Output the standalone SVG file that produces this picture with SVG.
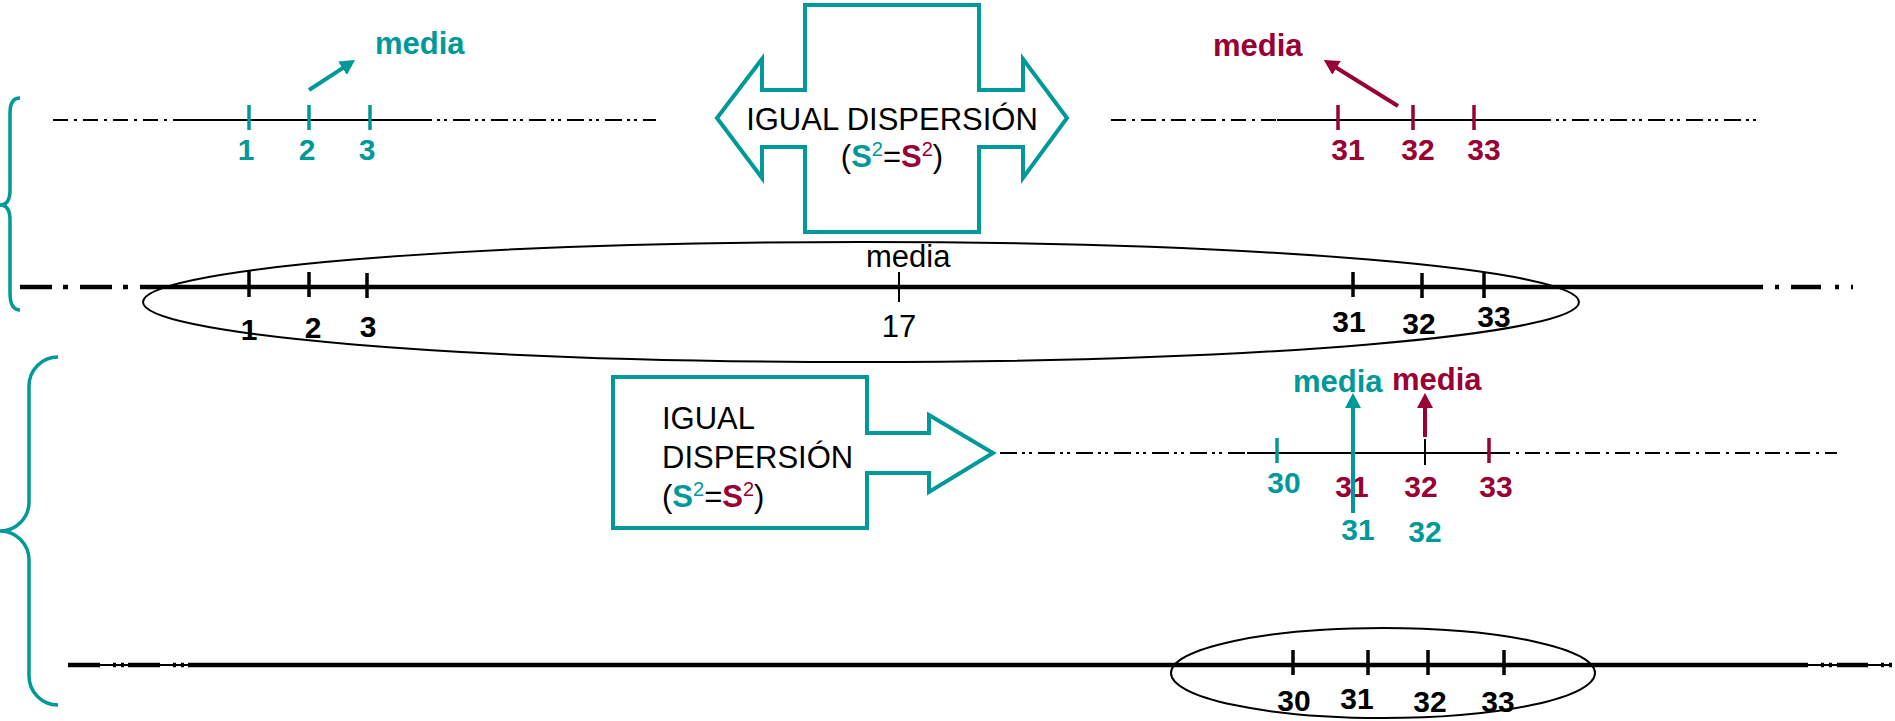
<svg xmlns="http://www.w3.org/2000/svg" width="1895" height="721" viewBox="0 0 1895 721">
<style>
text{font-family:"Liberation Sans",Arial,Helvetica,sans-serif;}
.num{font-weight:bold;font-size:30px;text-anchor:middle}
.teal{fill:#009999}
.crim{fill:#990033}
.blk{fill:#000}
.med{font-weight:bold;font-size:31px}
.reg{font-size:31px}
.sup{font-size:20px}
.tkT{stroke:#009999;stroke-width:3.5}
.tkC{stroke:#990033;stroke-width:3.5}
.tkB{stroke:#000;stroke-width:3.5}
.tkS{stroke:#000;stroke-width:2}
.thin{stroke:#000;stroke-width:2;fill:none}
.thick{stroke:#000;stroke-width:4.5;fill:none}
.dd{stroke-dasharray:15 6 3 6}
.ddd{stroke-dasharray:17 5 3 4 3 6}
.tdd{stroke-dasharray:32 11 5 12}
.tddd{stroke-dasharray:32 13 3 5 3 4}
.shape{fill:#fff;stroke:#009999;stroke-width:4}
.brace{fill:none;stroke:#009999;stroke-width:3.5}
.ell{fill:none;stroke:#000;stroke-width:2}
.arT{stroke:#009999;stroke-width:4;fill:none}
.arC{stroke:#990033;stroke-width:4;fill:none}
</style>
<defs>
<marker id="hT" markerUnits="userSpaceOnUse" markerWidth="16" markerHeight="16" refX="3" refY="8" orient="auto">
<path d="M0,0 L15,8 L0,16 Z" fill="#009999"/>
</marker>
<marker id="hC" markerUnits="userSpaceOnUse" markerWidth="16" markerHeight="16" refX="3" refY="8" orient="auto">
<path d="M0,0 L15,8 L0,16 Z" fill="#990033"/>
</marker>
</defs>

<g id="brace-top">
<path class="brace" d="M20,98 Q10,98 10,113 V190 Q10,205 0,205 Q10,205 10,220 V293 Q10,310 20,310"/>
</g>
<g id="brace-bottom">
<path class="brace" d="M58,357 A29,29 0 0 0 29,386 V502 A29,29 0 0 1 0,531 A29,29 0 0 1 29,560 V676 A29,29 0 0 0 58,705"/>
</g>

<g id="scale-teal-top">
<line class="thin dd" x1="53" y1="120" x2="174" y2="120"/>
<line class="thin" x1="174" y1="120" x2="415" y2="120"/>
<line class="thin ddd" x1="415" y1="120" x2="656" y2="120"/>
<line class="tkT" x1="249" y1="105" x2="249" y2="130"/>
<line class="tkT" x1="309" y1="105" x2="309" y2="130"/>
<line class="tkT" x1="370" y1="105" x2="370" y2="130"/>
<text class="num teal" x="246" y="160">1</text>
<text class="num teal" x="307" y="160">2</text>
<text class="num teal" x="367" y="160">3</text>
<text class="med teal" x="375" y="54">media</text>
</g>

<g id="scale-crimson-top">
<line class="thin dd" x1="1111" y1="120" x2="1277" y2="120"/>
<line class="thin" x1="1277" y1="120" x2="1534" y2="120"/>
<line class="thin ddd" x1="1534" y1="120" x2="1761" y2="120"/>
<line class="tkC" x1="1338" y1="105" x2="1338" y2="130"/>
<line class="tkC" x1="1413" y1="105" x2="1413" y2="130"/>
<line class="tkC" x1="1474" y1="105" x2="1474" y2="130"/>
<text class="num crim" x="1348" y="160">31</text>
<text class="num crim" x="1418" y="160">32</text>
<text class="num crim" x="1484" y="160">33</text>
<text class="med crim" x="1213" y="56">media</text>
</g>

<g id="double-arrow-box">
<path class="shape" d="M805,5 H979 V90 H1023 V59 L1067,118 L1023,178 V147 H979 V232 H805 V147 H762 V178 L717,118 L762,59 V90 H805 Z"/>
<text class="reg blk" x="892" y="130" text-anchor="middle">IGUAL DISPERSIÓN</text>
<text class="reg blk" x="892" y="167" text-anchor="middle">(<tspan class="teal" font-weight="bold">S</tspan><tspan class="teal sup" dy="-11">2</tspan><tspan dy="11">=</tspan><tspan class="crim" font-weight="bold">S</tspan><tspan class="crim sup" dy="-11">2</tspan><tspan dy="11">)</tspan></text>
</g>

<g id="axis-combined">
<line class="thick tdd" x1="20" y1="287" x2="140" y2="287"/>
<line class="thick" x1="140" y1="287" x2="1763" y2="287"/>
<line class="thick" stroke-dasharray="4 12 30 14" x1="1775" y1="287" x2="1853" y2="287"/>
<line class="tkB" x1="249" y1="270" x2="249" y2="297"/>
<line class="tkB" x1="309" y1="272" x2="309" y2="297"/>
<line class="tkB" x1="367" y1="273" x2="367" y2="298"/>
<line class="tkS" x1="899" y1="272" x2="899" y2="302"/>
<line class="tkB" x1="1353" y1="272" x2="1353" y2="297"/>
<line class="tkB" x1="1422" y1="273" x2="1422" y2="298"/>
<line class="tkB" x1="1484" y1="273" x2="1484" y2="298" stroke-width="2.5"/>
<ellipse class="ell" cx="861" cy="302" rx="718" ry="60"/>
<text class="num blk" x="249" y="340">1</text>
<text class="num blk" x="313" y="338">2</text>
<text class="num blk" x="368" y="337">3</text>
<text class="num blk" x="1349" y="332">31</text>
<text class="num blk" x="1419" y="334">32</text>
<text class="num blk" x="1494" y="327">33</text>
<text class="reg blk" x="866" y="267">media</text>
<text class="reg blk" x="899" y="337" text-anchor="middle" font-size="30">17</text>
</g>

<g id="right-arrow-box">
<path class="shape" d="M613,377 H867 V433 H929 V415 L993,453 L929,492 V473 H867 V528 H613 Z"/>
<text class="reg blk" x="662" y="429">IGUAL</text>
<text class="reg blk" x="662" y="468">DISPERSIÓN</text>
<text class="reg blk" x="662" y="507">(<tspan class="teal" font-weight="bold">S</tspan><tspan class="teal sup" dy="-11">2</tspan><tspan dy="11">=</tspan><tspan class="crim" font-weight="bold">S</tspan><tspan class="crim sup" dy="-11">2</tspan><tspan dy="11">)</tspan></text>
</g>

<g id="scale-shifted">
<line class="thin ddd" x1="1000" y1="453" x2="1247" y2="453"/>
<line class="thin" x1="1247" y1="453" x2="1495" y2="453"/>
<line class="thin dd" x1="1495" y1="453" x2="1837" y2="453"/>
<line class="tkT" x1="1277" y1="438" x2="1277" y2="463"/>
<line class="tkS" x1="1425" y1="439" x2="1425" y2="465"/>
<line class="tkC" x1="1489" y1="438" x2="1489" y2="463"/>
<text class="num teal" x="1284" y="493">30</text>
<text class="num crim" x="1352" y="497">31</text>
<text class="num crim" x="1421" y="497">32</text>
<text class="num crim" x="1496" y="497">33</text>
<text class="num teal" x="1358" y="540">31</text>
<text class="num teal" x="1425" y="542">32</text>
<text class="med teal" x="1293" y="392">media</text>
<text class="med crim" x="1392" y="390">media</text>
</g>

<g id="axis-bottom">
<line class="thin" x1="68" y1="665" x2="188" y2="665"/>
<line class="thick tddd" x1="68" y1="665" x2="188" y2="665"/>
<line class="thick" x1="188" y1="665" x2="1808" y2="665"/>
<line class="thin" x1="1808" y1="665" x2="1892" y2="665"/>
<line class="thick" stroke-dasharray="3 5 3 5 31 13" x1="1821" y1="665" x2="1895" y2="665"/>
<line class="tkB" x1="1293" y1="650" x2="1293" y2="675"/>
<line class="tkB" x1="1368" y1="650" x2="1368" y2="675"/>
<line class="tkB" x1="1428" y1="650" x2="1428" y2="675"/>
<line class="tkB" x1="1504" y1="650" x2="1504" y2="675"/>
<ellipse class="ell" cx="1383" cy="673" rx="212" ry="45"/>
<text class="num blk" x="1294" y="711">30</text>
<text class="num blk" x="1357" y="709">31</text>
<text class="num blk" x="1430" y="712">32</text>
<text class="num blk" x="1498" y="712">33</text>
</g>

<g id="connectors">
<line class="arT" x1="309" y1="90" x2="345" y2="66.6" marker-end="url(#hT)"/>
<line class="arC" x1="1398" y1="106" x2="1334" y2="66.3" marker-end="url(#hC)"/>
<line class="arT" x1="1353" y1="513" x2="1353" y2="405" marker-end="url(#hT)"/>
<line class="arC" x1="1425" y1="437" x2="1425" y2="405" marker-end="url(#hC)"/>
</g>
</svg>
